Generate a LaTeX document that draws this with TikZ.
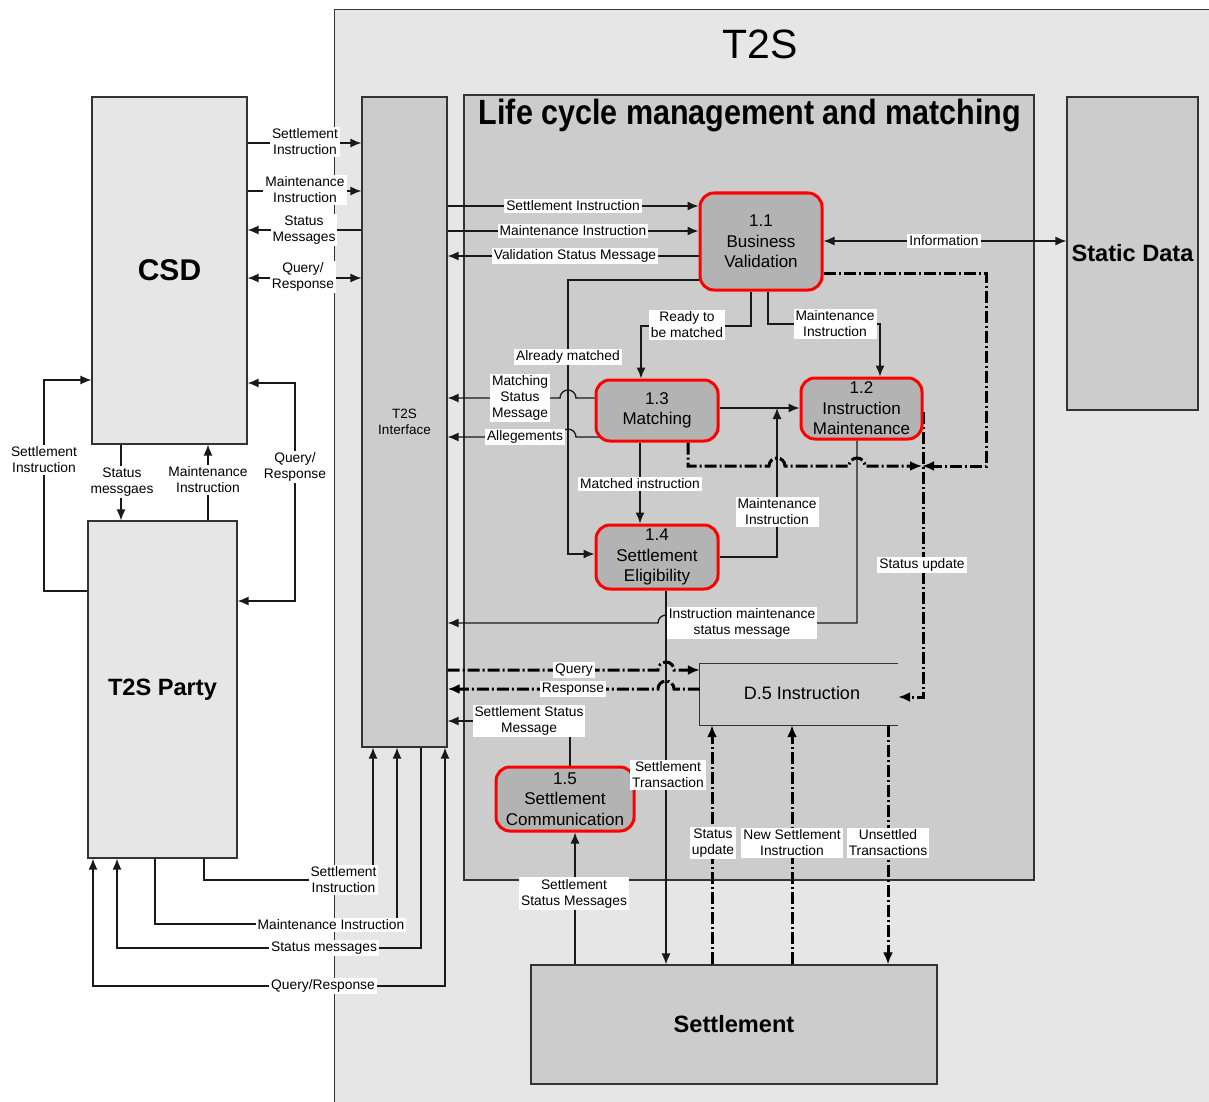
\documentclass[tikz,border=0pt]{standalone}
\usepackage{fontspec}
\setmainfont{Liberation Sans}
\usetikzlibrary{arrows.meta}
\definecolor{outerg}{HTML}{E6E6E6}
\definecolor{midg}{HTML}{CCCCCC}
\definecolor{procg}{HTML}{B3B3B3}
\definecolor{edgec}{HTML}{333333}
\pgfdeclarelayer{bg}\pgfdeclarelayer{lines}\pgfsetlayers{bg,lines,main}
\begin{document}
\begin{tikzpicture}[x=1pt,y=-1pt,
 box/.style={draw=edgec, line width=1.2pt, inner sep=0},
 proc/.style={draw=red, line width=3pt, fill=procg, rounded corners=14pt, inner sep=0, align=center, font=\fontsize{17}{20.5}\selectfont},
 lbl/.style={fill=white, inner xsep=2pt, inner ysep=2pt, align=center, font=\fontsize{13.8}{16}\selectfont},
 conn/.style={draw=black!90, line width=1.3pt},
 arr/.style={conn, -{Latex[length=11pt,width=9pt]}},
 arrb/.style={conn, {Latex[length=11pt,width=9pt]}-{Latex[length=11pt,width=9pt]}},
 dconn/.style={draw=black, line width=3pt, dash pattern=on 12pt off 3pt on 2pt off 3pt},
 darr/.style={dconn, -{Latex[length=12pt,width=10pt]}},
]
\useasboundingbox (0,0) rectangle (1209,1102);
\begin{pgfonlayer}{bg}
\node[box, fill=outerg, anchor=north west, minimum width=882, minimum height=1102] (t2s) at (334,9) {};
\node[box, fill=outerg, minimum width=155, minimum height=347, font=\fontsize{30}{36}\selectfont\bfseries] (csd) at (169.5,270.5) {CSD};
\node[box, fill=outerg, minimum width=149, minimum height=337, font=\fontsize{23.6}{28}\selectfont\bfseries] (party) at (162.5,689.5) {T2S Party};
\node[box, fill=midg, minimum width=85, minimum height=650, align=center, font=\fontsize{13.5}{16}\selectfont] (tif) at (404.5,422) {T2S\\Interface};
\node[box, fill=midg, minimum width=570, minimum height=785] (lcm) at (749,487.5) {};
\node[box, fill=midg, minimum width=131, minimum height=313, font=\fontsize{23.6}{28}\selectfont\bfseries] (static) at (1132.5,253.5) {Static Data};
\node[box, fill=midg, minimum width=406, minimum height=119, font=\fontsize{23.6}{28}\selectfont\bfseries] (settle) at (734,1024.5) {Settlement};
\node[font=\fontsize{41}{48}\selectfont] (t2stitle) at (760,44) {T2S};
\node[font=\fontsize{30.5}{36}\selectfont\bfseries] (lcmtitle) at (750,116) {\scalebox{1}[1.15]{Life cycle management and matching}};
\node[inner sep=0, minimum width=198, minimum height=61] (d5) at (799,694.5) {};
\node[font=\fontsize{18}{21}\selectfont] (d5t) at (802,693) {D.5 Instruction};
\draw[edgec, line width=1.2pt] (d5.north east) -- (d5.north west) -- (d5.south west) -- (d5.south east);
\end{pgfonlayer}

% process nodes
\node[proc, minimum width=122, minimum height=97] (p11) at (761,241.5) {1.1\\Business\\Validation};
\node[proc, minimum width=122, minimum height=61] (p13) at (657,410.5) {1.3\\Matching};
\node[proc, minimum width=121, minimum height=61] (p12) at (861.5,408.5) {1.2\\Instruction\\Maintenance};
\node[proc, minimum width=122, minimum height=64] (p14) at (657,557) {1.4\\Settlement\\Eligibility};
\node[proc, minimum width=138, minimum height=64] (p15) at (565,799) {1.5\\Settlement\\Communication};

\begin{pgfonlayer}{lines}
% CSD <-> interface
\draw[arr] (csd.east |- 0,143) -- (tif.west |- 0,143);
\draw[arr] (csd.east |- 0,191) -- (tif.west |- 0,191);
\draw[arr] (tif.west |- 0,230) -- (csd.east |- 0,230);
\draw[arrb] (csd.east |- 0,278) -- (tif.west |- 0,278);
% CSD <-> party
\draw[arr] (party.west |- 0,591) -| (44,380) -- (csd.west |- 0,380);
\draw[arr] (csd.south -| 121,0) -- (party.north -| 121,0);
\draw[arr] (party.north -| 208,0) -- (csd.south -| 208,0);
\draw[arrb] (party.east |- 0,601) -| (295,383) -- (csd.east |- 0,383);
% party <-> interface
\draw[arr] (party.south -| 204,0) |- (373,880) -- (tif.south -| 373,0);
\draw[arr] (party.south -| 155,0) |- (397,924) -- (tif.south -| 397,0);
\draw[arr] (tif.south -| 421,0) |- (117,948) -- (party.south -| 117,0);
\draw[arrb] (tif.south -| 445,0) |- (93,986) -- (party.south -| 93,0);
% interface <-> 1.1
\draw[arr] (tif.east |- 0,206) -- (p11.west |- 0,206);
\draw[arr] (tif.east |- 0,231) -- (p11.west |- 0,231);
\draw[arr] (p11.west |- 0,256) -- (tif.east |- 0,256);
% 1.1 -> others
\draw[arr] (p11.west |- 0,280) -| (568,554) -- (p14.west |- 0,554);
\draw[arr] (p11.south -| 751,0) |- (641,326) -- (p13.north -| 641,0);
\draw[arr] (p11.south -| 768,0) |- (880,324) -- (p12.north -| 880,0);
\draw[arrb] (static.west |- 0,241) -- (p11.east |- 0,241);
% 1.3
\draw[arr] (p13.west |- 0,398) -- (576,398) arc[start angle=0,end angle=180,radius=8pt] -- (tif.east |- 0,398);
\draw[arr] (604,437) -- (576,437) arc[start angle=0,end angle=180,radius=8pt] -- (tif.east |- 0,437);
\draw[arr] (p13.east |- 0,408) -- (p12.west |- 0,408);
\draw[arr] (p13.south -| 640,0) -- (p14.north -| 640,0);
% 1.4
\draw[arr] (p14.east |- 0,557) -| (777,408);
\draw[arr] (p14.south -| 666,0) -- (settle.north -| 666,0);
% 1.2
\draw[arr] (p12.south -| 857,0) |- (674,623) arc[start angle=0,end angle=180,radius=8pt] -- (tif.east |- 0,623);
% 1.5
\draw[arr] (p15.north -| 570,0) |- (tif.east |- 0,721);
\draw[arr] (settle.north -| 575,0) -- (p15.south -| 575,0);
% dashed flows
\draw[darr] (tif.east |- 0,670) -- (658,670) arc[start angle=180,end angle=0,radius=8pt] -- (d5.west |- 0,670);
\draw[darr] (d5.west |- 0,689) -- (674,689) arc[start angle=0,end angle=180,radius=8pt] -- (tif.east |- 0,689);
\draw[darr] (p11.east |- 0,273) -| (986,466) -- (922,466);
\draw[darr] (p13.south -| 688,0) |- (769,466) arc[start angle=180,end angle=0,radius=8pt] -- (849,466) arc[start angle=180,end angle=0,radius=8pt] -- (922,466);
\draw[darr] (p12.east |- 0,412) |- (d5.east |- 0,697);
\draw[darr] (settle.north -| 712,0) -- (d5.south -| 712,0);
\draw[darr] (settle.north -| 792,0) -- (d5.south -| 792,0);
\draw[darr] (d5.south -| 888,0) -- (settle.north -| 888,0);
\end{pgfonlayer}

% labels
\node[lbl] (l1) at (305,142) {Settlement\\Instruction};
\node[lbl] (l2) at (305,190) {Maintenance\\Instruction};
\node[lbl] (l3) at (304,230) {Status\\Messages};
\node[lbl] (l4) at (303,277) {Query/\\Response};
\node[lbl] (l5) at (44,460) {Settlement\\Instruction};
\node[lbl] (l6) at (122,482) {Status\\messgaes};
\node[lbl] (l7) at (208,480) {Maintenance\\Instruction};
\node[lbl] (l8) at (295,467) {Query/\\Response};
\node[lbl] (l9) at (343.5,880) {Settlement\\Instruction};
\node[lbl] (l10) at (331,925) {Maintenance Instruction};
\node[lbl] (l11) at (324,948) {Status messages};
\node[lbl] (l12) at (323,986) {Query/Response};
\node[lbl] (l13) at (573,206) {Settlement Instruction};
\node[lbl] (l14) at (573,231) {Maintenance Instruction};
\node[lbl] (l15) at (575,256) {Validation Status Message};
\node[lbl] (l16) at (687,325) {Ready to\\be matched};
\node[lbl] (l17) at (835,324) {Maintenance\\Instruction};
\node[lbl] (l18) at (568,357) {Already matched};
\node[lbl] (l19) at (520,398) {Matching\\Status\\Message};
\node[lbl] (l20) at (525,437) {Allegements};
\node[lbl] (l21) at (640,484) {Matched instruction};
\node[lbl] (l22) at (777,512) {Maintenance\\Instruction};
\node[lbl] (l23) at (742,623) {Instruction maintenance\\status message};
\node[lbl] (l24) at (668,775) {Settlement\\Transaction};
\node[lbl] (l25) at (529,721) {Settlement Status\\Message};
\node[lbl] (l26) at (574,893.5) {Settlement\\Status Messages};
\node[lbl] (l27) at (574,670) {Query};
\node[lbl] (l28) at (573,689) {Response};
\node[lbl] (l29) at (922,565) {Status update};
\node[lbl] (l30) at (944,241) {Information};
\node[lbl] (l31) at (713,843) {Status\\update};
\node[lbl] (l32) at (792,843) {New Settlement\\Instruction};
\node[lbl] (l33) at (888,843) {Unsettled\\Transactions};
\end{tikzpicture}
\end{document}
